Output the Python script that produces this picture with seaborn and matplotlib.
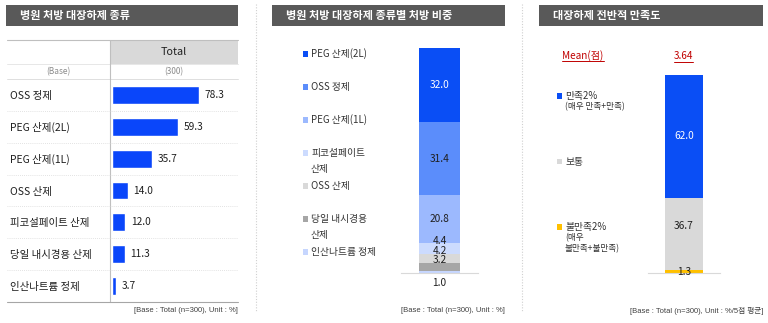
import matplotlib
matplotlib.use('Agg')
import matplotlib.pyplot as plt
import seaborn as sns
import pandas as pd
from matplotlib.patches import Rectangle

# ---------------- data ----------------
titles = ['병원 처방 대장하제 종류', '병원 처방 대장하제 종류별 처방 비중', '대장하제 전반적 만족도']

p1_categories = ['OSS 정제', 'PEG 산제(2L)', 'PEG 산제(1L)', 'OSS 산제',
                 '피코설페이트 산제', '당일 내시경용 산제', '인산나트륨 정제']
p1_values = [78.3, 59.3, 35.7, 14.0, 12.0, 11.3, 3.7]
p1_header = 'Total'
p1_base_label = '(Base)'
p1_base_n = '(300)'

p2_categories = ['PEG 산제(2L)', 'OSS 정제', 'PEG 산제(1L)', '피코설페이트\n산제',
                 'OSS 산제', '당일 내시경용\n산제', '인산나트륨 정제']
p2_values = [32.0, 31.4, 20.8, 4.4, 4.2, 3.2, 1.0]
p2_colors = ['#0A4EF5', '#5B8DFB', '#9CB9FE', '#CCDBFE', '#D9D9D9', '#A6A6A6', '#C6D6FE']

p3_categories = ['만족2%', '보통', '불만족2%']
p3_notes = ['(매우 만족+만족)', '', '(매우\n불만족+불만족)']
p3_values = [62.0, 36.7, 1.3]
p3_colors = ['#0A4EF5', '#D9D9D9', '#FFC000']
p3_mean_label = 'Mean(점)'
p3_mean = 3.64

footnotes = ['[Base : Total (n=300), Unit : %]',
             '[Base : Total (n=300), Unit : %]',
             '[Base : Total (n=300), Unit : %/5점 평균]']

# ---------------- setup ----------------
sns.set_theme(style='white')
plt.rcParams['font.family'] = ['Noto Sans CJK KR', 'DejaVu Sans']
FOOT_FONT = ['Liberation Sans', 'Noto Sans CJK KR']

W, H = 768, 323
fig = plt.figure(figsize=(W / 100, H / 100), dpi=100)
fig.patch.set_facecolor('white')


def rect(x0, y0, x1, y1):
    return [x0 / W, 1 - y1 / H, (x1 - x0) / W, (y1 - y0) / H]


bg = fig.add_axes([0, 0, 1, 1])
bg.set_xlim(0, W)
bg.set_ylim(H, 0)
bg.axis('off')

TXT = '#1F1F1F'
LEG = '#333333'
LINE = '#BFBFBF'

# title bars
for (x0, x1, tx), t in zip([(6, 238, 20), (272, 505, 286), (539, 763, 553)], titles):
    bg.add_patch(Rectangle((x0, 5), x1 - x0, 21, color='#595959', lw=0))
    bg.text(tx, 15.5, t, color='white', fontsize=8, fontweight='bold', va='center', ha='left')

# dotted vertical separators
for xs in (255.5, 521.5):
    bg.plot([xs, xs], [4, 312], color='#D0D0D0', lw=0.8, ls=(0, (1, 1.5)))

# footnotes
for xr, ft in zip((238, 505, 763), footnotes):
    bg.text(xr, 311, ft, ha='right', va='center', fontsize=5.5, color='#404040', family=FOOT_FONT)

# ---------------- panel 1 : table with bars ----------------
bg.add_patch(Rectangle((110, 40), 128, 24, color='#D9D9D9', lw=0))
bg.plot([7, 238], [40, 40], color=LINE, lw=0.8)
bg.plot([7, 238], [64, 64], color='#E3E3E3', lw=0.6)
bg.plot([7, 238], [79, 79], color='#D9D9D9', lw=0.6)
bg.plot([110, 110], [40, 302], color=LINE, lw=0.8)
bg.plot([7, 238], [302, 302], color='#A6A6A6', lw=0.8)
bg.text(174, 52, p1_header, ha='center', va='center', fontsize=7.8, color=TXT)
bg.text(58, 72, p1_base_label, ha='center', va='center', fontsize=6, color='#8C8C8C')
bg.text(174, 72, p1_base_n, ha='center', va='center', fontsize=6, color='#8C8C8C')

ax1 = fig.add_axes(rect(110, 79, 238, 302))
df1 = pd.DataFrame({'cat': p1_categories, 'val': p1_values})
sns.barplot(data=df1, x='val', y='cat', color='#0A46FA', saturation=1, width=0.56,
            orient='h', ax=ax1)
ax1.set_xlim(-1.8, 113.4)
ax1.set_ylim(len(p1_categories) - 0.5, -0.5)
ax1.set_facecolor('none')
for s in ax1.spines.values():
    s.set_visible(False)
ax1.set_xticks([])
ax1.set_xlabel('')
ax1.set_ylabel('')
ax1.tick_params(axis='y', length=0, pad=72, labelsize=7.5, labelcolor=TXT)
for lab in ax1.get_yticklabels():
    lab.set_ha('left')
for i, v in enumerate(p1_values):
    ax1.text(v + 5.2, i, f'{v:.1f}', va='center', ha='left', fontsize=7.3, color=TXT)
for i in range(len(p1_categories) - 1):
    ax1.axhline(i + 0.5, xmin=-103 / 128, xmax=1, color='#D9D9D9', lw=0.6,
                ls=(0, (1, 1.5)), clip_on=False)

# ---------------- panel 2 : stacked share ----------------
ax2 = fig.add_axes(rect(401, 41, 478, 273))
ax2.set_xlim(-0.5, 0.5)
ax2.set_ylim(0, 100)
bottom = 0.0
n2 = len(p2_values)
for k, (v, c) in enumerate(zip(reversed(p2_values), reversed(p2_colors))):
    ax2.bar(0, v, bottom=bottom, width=0.53, color=c, edgecolor='none')
    yc = bottom + v / 2
    if k == 0:
        ax2.annotate(f'{v:.1f}', (0, 0), xytext=(0, -7), textcoords='offset points',
                     ha='center', va='center', fontsize=7.3, color=TXT, annotation_clip=False)
    elif v < 10:
        ax2.annotate(f'{v:.1f}', (0, yc), xytext=(0, 5), textcoords='offset points',
                     ha='center', va='center', fontsize=7.3, color=TXT)
    else:
        col = 'white' if k == n2 - 1 else TXT
        ax2.text(0, yc, f'{v:.1f}', ha='center', va='center', fontsize=7.3, color=col)
    bottom += v
for s in ['top', 'left', 'right']:
    ax2.spines[s].set_visible(False)
ax2.spines['bottom'].set_color('#D9D9D9')
ax2.spines['bottom'].set_linewidth(0.8)
ax2.set_xticks([])
ax2.set_yticks([])
ax2.set_facecolor('none')

# legend panel 2
for i, (name, c) in enumerate(zip(p2_categories, p2_colors)):
    y = 54 + i * 33
    bg.add_patch(Rectangle((303, y - 2.7), 5.4, 5.4, color=c, lw=0))
    for j, line in enumerate(name.split('\n')):
        bg.text(311, y + j * 16, line, va='center', ha='left', fontsize=7, color=LEG)

# ---------------- panel 3 : satisfaction ----------------
ax3 = fig.add_axes(rect(648, 75, 720, 273))
ax3.set_xlim(-0.5, 0.5)
ax3.set_ylim(0, 100)
bottom = 0.0
n3 = len(p3_values)
for k, (v, c) in enumerate(zip(reversed(p3_values), reversed(p3_colors))):
    ax3.bar(0, v, bottom=bottom, width=0.54, color=c, edgecolor='none')
    yc = bottom + v / 2
    if k == n3 - 1:
        ax3.text(0, yc, f'{v:.1f}', ha='center', va='center', fontsize=7.3, color='white')
    elif k == 0:
        ax3.text(0, yc, f'{v:.1f}', ha='center', va='center', fontsize=7.3, color=TXT)
    else:
        ax3.annotate(f'{v:.1f}', (0, yc), xytext=(0, 5.5), textcoords='offset points',
                     ha='center', va='center', fontsize=7.3, color=TXT)
    bottom += v
for s in ['top', 'left', 'right']:
    ax3.spines[s].set_visible(False)
ax3.spines['bottom'].set_color('#D9D9D9')
ax3.spines['bottom'].set_linewidth(0.8)
ax3.set_xticks([])
ax3.set_yticks([])
ax3.set_facecolor('none')

RED = '#C00000'
t_mean_lab = bg.text(583, 55.5, p3_mean_label, ha='center', va='center', fontsize=7.2, color=RED)
t_mean = bg.text(683.5, 56, f'{p3_mean:.2f}', ha='center', va='center', fontsize=7.2, color=RED)

# legend panel 3
for i, (name, note, c) in enumerate(zip(p3_categories, p3_notes, p3_colors)):
    y = 96 + i * 65.5
    bg.add_patch(Rectangle((557, y - 2.7), 5.4, 5.4, color=c, lw=0))
    bg.text(565, y, name, va='center', ha='left', fontsize=7, color=LEG)
    for j, line in enumerate([ln for ln in note.split('\n') if ln]):
        bg.text(565, y + 11 + j * 10.5, line, va='center', ha='left',
                fontsize=6.2, color=LEG)

# underline red texts
fig.canvas.draw()
r = fig.canvas.get_renderer()
inv = bg.transData.inverted()
for t in (t_mean_lab, t_mean):
    bb = t.get_window_extent(r)
    (xa, ya), (xb, yb) = inv.transform([(bb.x0, bb.y0), (bb.x1, bb.y0)])
    bg.plot([xa, xb], [ya + 0.5, yb + 0.5], color=RED, lw=0.7)

fig.savefig('out.png', dpi=100, facecolor='white')
